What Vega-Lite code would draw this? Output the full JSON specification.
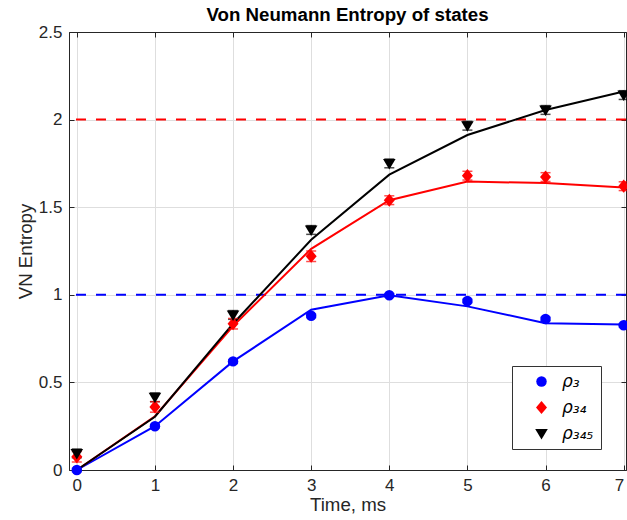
{
  "$schema": "https://vega.github.io/schema/vega-lite/v6.json",
  "width": 557,
  "height": 438,
  "autosize": "none",
  "padding": {"left": 69, "top": 32, "right": 1, "bottom": 50},
  "config": {
    "view": {"stroke": "#262626", "strokeWidth": 1},
    "font": "Liberation Sans",
    "axis": {
      "labelFont": "Liberation Sans",
      "labelFontSize": 17,
      "labelColor": "#262626",
      "titleFont": "Liberation Sans",
      "titleFontSize": 18.7,
      "titleFontWeight": "normal",
      "titleColor": "#262626",
      "domainColor": "#262626",
      "tickColor": "#262626",
      "gridColor": "#dedede",
      "gridWidth": 1
    }
  },
  "title": {
    "text": "Von Neumann Entropy of states",
    "font": "Liberation Sans",
    "fontSize": 18.7,
    "fontWeight": "bold",
    "color": "#000000",
    "offset": -2
  },
  "datasets": {
    "pts": [
      {"t": 0, "s": "ρ₃", "v": 0.0, "lo": -0.01, "hi": 0.01},
      {"t": 1, "s": "ρ₃", "v": 0.25, "lo": 0.24, "hi": 0.26},
      {"t": 2, "s": "ρ₃", "v": 0.62, "lo": 0.61, "hi": 0.63},
      {"t": 3, "s": "ρ₃", "v": 0.88, "lo": 0.87, "hi": 0.89},
      {"t": 4, "s": "ρ₃", "v": 0.997, "lo": 0.987, "hi": 1.007},
      {"t": 5, "s": "ρ₃", "v": 0.965, "lo": 0.955, "hi": 0.975},
      {"t": 6, "s": "ρ₃", "v": 0.862, "lo": 0.852, "hi": 0.872},
      {"t": 7, "s": "ρ₃", "v": 0.826, "lo": 0.816, "hi": 0.836},
      {"t": 0, "s": "ρ₃₄", "v": 0.075, "lo": 0.045, "hi": 0.105},
      {"t": 1, "s": "ρ₃₄", "v": 0.36, "lo": 0.33, "hi": 0.39},
      {"t": 2, "s": "ρ₃₄", "v": 0.835, "lo": 0.805, "hi": 0.865},
      {"t": 3, "s": "ρ₃₄", "v": 1.22, "lo": 1.19, "hi": 1.25},
      {"t": 4, "s": "ρ₃₄", "v": 1.54, "lo": 1.515, "hi": 1.565},
      {"t": 5, "s": "ρ₃₄", "v": 1.68, "lo": 1.655, "hi": 1.705},
      {"t": 6, "s": "ρ₃₄", "v": 1.672, "lo": 1.647, "hi": 1.697},
      {"t": 7, "s": "ρ₃₄", "v": 1.62, "lo": 1.595, "hi": 1.645},
      {"t": 0, "s": "ρ₃₄₅", "v": 0.095, "lo": 0.07, "hi": 0.12},
      {"t": 1, "s": "ρ₃₄₅", "v": 0.415, "lo": 0.39, "hi": 0.44},
      {"t": 2, "s": "ρ₃₄₅", "v": 0.885, "lo": 0.86, "hi": 0.91},
      {"t": 3, "s": "ρ₃₄₅", "v": 1.37, "lo": 1.345, "hi": 1.395},
      {"t": 4, "s": "ρ₃₄₅", "v": 1.75, "lo": 1.725, "hi": 1.775},
      {"t": 5, "s": "ρ₃₄₅", "v": 1.965, "lo": 1.94, "hi": 1.99},
      {"t": 6, "s": "ρ₃₄₅", "v": 2.055, "lo": 2.03, "hi": 2.08},
      {"t": 7, "s": "ρ₃₄₅", "v": 2.14, "lo": 2.115, "hi": 2.165}
    ],
    "lines": [
      {"t": 0, "s": "ρ₃", "v": 0.0},
      {"t": 1, "s": "ρ₃", "v": 0.25},
      {"t": 2, "s": "ρ₃", "v": 0.62},
      {"t": 3, "s": "ρ₃", "v": 0.915},
      {"t": 4, "s": "ρ₃", "v": 0.997},
      {"t": 5, "s": "ρ₃", "v": 0.934},
      {"t": 6, "s": "ρ₃", "v": 0.838},
      {"t": 7, "s": "ρ₃", "v": 0.83},
      {"t": 0, "s": "ρ₃₄", "v": 0.0},
      {"t": 1, "s": "ρ₃₄", "v": 0.307},
      {"t": 2, "s": "ρ₃₄", "v": 0.822},
      {"t": 3, "s": "ρ₃₄", "v": 1.262},
      {"t": 4, "s": "ρ₃₄", "v": 1.54},
      {"t": 5, "s": "ρ₃₄", "v": 1.646},
      {"t": 6, "s": "ρ₃₄", "v": 1.638},
      {"t": 7, "s": "ρ₃₄", "v": 1.613},
      {"t": 0, "s": "ρ₃₄₅", "v": 0.0},
      {"t": 1, "s": "ρ₃₄₅", "v": 0.304},
      {"t": 2, "s": "ρ₃₄₅", "v": 0.835},
      {"t": 3, "s": "ρ₃₄₅", "v": 1.314},
      {"t": 4, "s": "ρ₃₄₅", "v": 1.686},
      {"t": 5, "s": "ρ₃₄₅", "v": 1.912},
      {"t": 6, "s": "ρ₃₄₅", "v": 2.055},
      {"t": 7, "s": "ρ₃₄₅", "v": 2.16}
    ],
    "limits": [
      {"s": "ρ₃", "y": 1},
      {"s": "ρ₃₄", "y": 2}
    ]
  },
  "resolve": {
    "axis": {"x": "independent", "y": "independent"},
    "scale": {"color": "independent", "shape": "independent"}
  },
  "layer": [
    {
      "data": {"name": "pts"},
      "mark": {"type": "point", "opacity": 0},
      "encoding": {
        "x": {
          "field": "t", "type": "quantitative",
          "scale": {"domain": [-0.1, 7.03], "nice": false, "zero": false},
          "axis": {"values": [0, 1, 2, 3, 4, 5, 6, 7], "title": "Time, ms", "grid": true, "tickSize": -5, "labelPadding": 12, "titlePadding": 2, "format": "d", "labelFlush": 3}
        },
        "y": {
          "field": "v", "type": "quantitative",
          "scale": {"domain": [0, 2.5], "nice": false},
          "axis": {"values": [0, 0.5, 1, 1.5, 2, 2.5], "format": "~g", "title": "VN Entropy", "grid": true, "tickSize": -5, "labelPadding": 12, "titlePadding": 3}
        }
      }
    },
    {
      "data": {"name": "limits"},
      "mark": {"type": "rule", "strokeWidth": 2, "strokeDash": [10, 10]},
      "encoding": {
        "y": {"field": "y", "type": "quantitative", "axis": null},
        "color": {"field": "s", "type": "nominal", "legend": null,
          "scale": {"domain": ["ρ₃", "ρ₃₄", "ρ₃₄₅"], "range": ["#0000ff", "#ff0000", "#000000"]}}
      }
    },
    {
      "data": {"name": "lines"},
      "mark": {"type": "line", "strokeWidth": 2},
      "encoding": {
        "x": {"field": "t", "type": "quantitative",
          "axis": {"orient": "top", "values": [0, 1, 2, 3, 4, 5, 6, 7], "labels": false, "title": null, "grid": false, "tickSize": -5}},
        "y": {"field": "v", "type": "quantitative",
          "axis": {"orient": "right", "values": [0, 0.5, 1, 1.5, 2, 2.5], "labels": false, "title": null, "grid": false, "tickSize": -5}},
        "color": {"field": "s", "type": "nominal", "legend": null,
          "scale": {"domain": ["ρ₃", "ρ₃₄", "ρ₃₄₅"], "range": ["#0000ff", "#ff0000", "#000000"]}}
      }
    },
    {
      "data": {"name": "pts"},
      "mark": {"type": "rule", "strokeWidth": 1.5},
      "encoding": {
        "x": {"field": "t", "type": "quantitative", "axis": null},
        "y": {"field": "lo", "type": "quantitative", "axis": null},
        "y2": {"field": "hi"},
        "color": {"field": "s", "type": "nominal", "legend": null,
          "scale": {"domain": ["ρ₃", "ρ₃₄", "ρ₃₄₅"], "range": ["#0000ff", "#ff0000", "#000000"]}}
      }
    },
    {
      "data": {"name": "pts"},
      "mark": {"type": "tick", "orient": "horizontal", "thickness": 1.5, "size": 10},
      "encoding": {
        "x": {"field": "t", "type": "quantitative", "axis": null},
        "y": {"field": "lo", "type": "quantitative", "axis": null},
        "color": {"field": "s", "type": "nominal", "legend": null,
          "scale": {"domain": ["ρ₃", "ρ₃₄", "ρ₃₄₅"], "range": ["#0000ff", "#ff0000", "#000000"]}}
      }
    },
    {
      "data": {"name": "pts"},
      "mark": {"type": "tick", "orient": "horizontal", "thickness": 1.5, "size": 10},
      "encoding": {
        "x": {"field": "t", "type": "quantitative", "axis": null},
        "y": {"field": "hi", "type": "quantitative", "axis": null},
        "color": {"field": "s", "type": "nominal", "legend": null,
          "scale": {"domain": ["ρ₃", "ρ₃₄", "ρ₃₄₅"], "range": ["#0000ff", "#ff0000", "#000000"]}}
      }
    },
    {
      "data": {"name": "pts"},
      "mark": {"type": "point", "filled": true, "opacity": 1, "size": 110},
      "encoding": {
        "x": {"field": "t", "type": "quantitative", "axis": null},
        "y": {"field": "v", "type": "quantitative", "axis": null},
        "color": {"field": "s", "type": "nominal",
          "scale": {"domain": ["ρ₃", "ρ₃₄", "ρ₃₄₅"], "range": ["#0000ff", "#ff0000", "#000000"]},
          "legend": {"orient": "none", "legendX": 443, "legendY": 334, "title": null,
            "fillColor": "#ffffff", "strokeColor": "#333333", "padding": 7,
            "labelFont": "DejaVu Sans", "labelFontSize": 17, "labelFontStyle": "italic", "labelColor": "#000000",
            "symbolSize": 110, "symbolStrokeWidth": 0, "symbolOffset": 14, "labelOffset": 12, "rowPadding": 8}},
        "shape": {"field": "s", "type": "nominal",
          "scale": {"domain": ["ρ₃", "ρ₃₄", "ρ₃₄₅"], "range": ["circle", "M0,-1.25L1.05,0L0,1.25L-1.05,0Z", "M-1.2,-0.85L1.2,-0.85L0,1.15Z"]},
          "legend": {"orient": "none", "legendX": 443, "legendY": 334, "title": null,
            "fillColor": "#ffffff", "strokeColor": "#333333", "padding": 7,
            "labelFont": "DejaVu Sans", "labelFontSize": 17, "labelFontStyle": "italic", "labelColor": "#000000",
            "symbolSize": 110, "symbolStrokeWidth": 0, "symbolOffset": 14, "labelOffset": 12, "rowPadding": 8}}
      }
    }
  ]
}
